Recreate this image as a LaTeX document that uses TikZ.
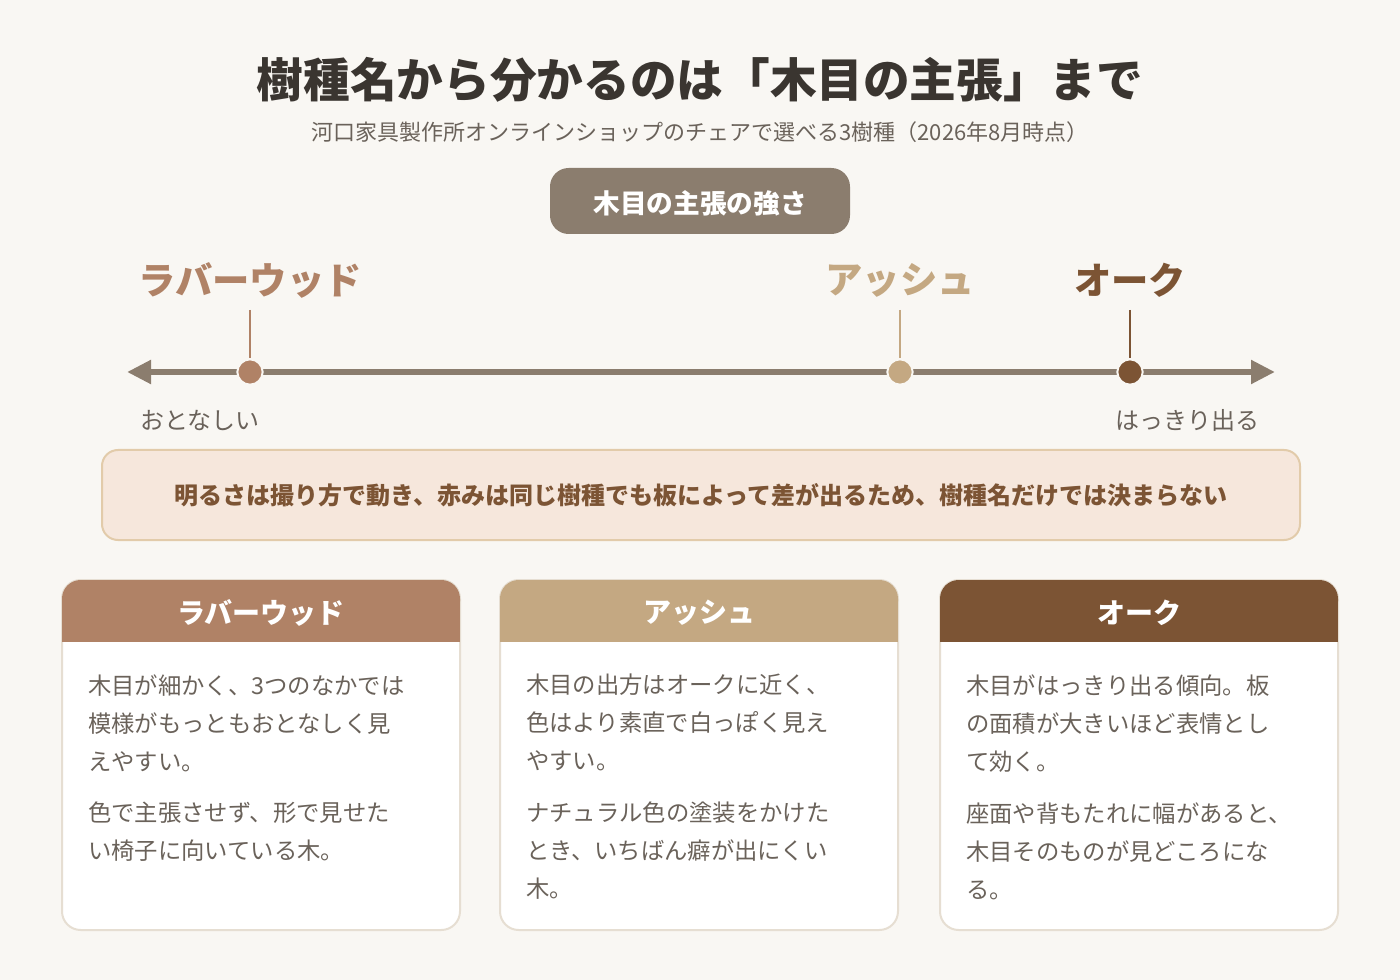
\documentclass[tikz,border=0pt]{standalone}
\usepackage{fontspec}
\setmainfont{Noto Sans CJK JP}
\usetikzlibrary{arrows.meta}
\definecolor{bg}{HTML}{F9F7F3}
\definecolor{ink}{HTML}{3A3530}
\definecolor{gry}{HTML}{6A625A}
\definecolor{axis}{HTML}{8B7D6E}
\definecolor{rub}{HTML}{B08266}
\definecolor{ash}{HTML}{C4A882}
\definecolor{oak}{HTML}{7C5434}
\definecolor{notef}{HTML}{F6E7DC}
\definecolor{noted}{HTML}{E2CBAA}
\definecolor{cardb}{HTML}{E6DED2}
\tikzset{
 x=0.75pt,y=-0.75pt,
 lbl/.style={font=\fontsize{28}{30}\selectfont\bfseries,anchor=center},
 tick/.style={line width=2.2pt},
 dot/.style={circle,minimum size=19pt,inner sep=0,draw=bg,line width=1.5pt},
 body/.style={anchor=north west,align=left,inner sep=0,text=gry,font=\fontsize{17.5}{28.5}\selectfont},
 head/.style={font=\fontsize{21}{24}\selectfont\bfseries,text=white},
}
\begin{document}
\begin{tikzpicture}
\fill[bg] (0,0) rectangle (1400,980);
\useasboundingbox (0,0) rectangle (1400,980);
\node[text=ink,font=\fontsize{35}{38}\selectfont\bfseries] (title) at (700,80) {樹種名から分かるのは「木目の主張」まで};
\node[text=gry,font=\fontsize{16.5}{18}\selectfont] (sub) at (700,132) {河口家具製作所オンラインショップのチェアで選べる3樹種（2026年8月時点）};
\fill[axis,rounded corners=14pt] (550,168) rectangle (850,234);
\node[text=white,font=\fontsize{20}{22}\selectfont\bfseries] (badge) at (700,203) {木目の主張の強さ};
\node[lbl,text=rub] (l1) at (250,280) {ラバーウッド};
\node[lbl,text=ash] (l2) at (900,280) {アッシュ};
\node[lbl,text=oak] (l3) at (1130,280) {オーク};
\coordinate (aL) at (127,372); \coordinate (aR) at (1275,372);
\draw[axis,line width=4.5pt,{Triangle[length=18pt,width=17pt]}-{Triangle[length=18pt,width=17pt]}] (aL) -- (aR);
\node[dot,fill=rub] (d1) at (250,372) {};
\node[dot,fill=ash] (d2) at (900,372) {};
\node[dot,fill=oak] (d3) at (1130,372) {};
\draw[tick,rub] (250,310) -- (d1);
\draw[tick,ash] (900,310) -- (d2);
\draw[tick,oak] (1130,310) -- (d3);
\node[text=gry,font=\fontsize{18}{20}\selectfont] (lo) at (200,420) {おとなしい};
\node[text=gry,font=\fontsize{18}{20}\selectfont] (hi) at (1187,420) {はっきり出る};
\draw[fill=notef,draw=noted,line width=1.5pt,rounded corners=12pt] (102,450) rectangle (1300,540);
\node[text=oak,font=\fontsize{18}{20}\selectfont\bfseries] (note) at (701,495) {明るさは撮り方で動き、赤みは同じ樹種でも板によって差が出るため、樹種名だけでは決まらない};
\foreach \x/\c/\t/\a/\b in {
 62/rub/ラバーウッド/{木目が細かく、3つのなかでは\\模様がもっともおとなしく見\\えやすい。}/{色で主張させず、形で見せた\\い椅子に向いている木。},
 500/ash/アッシュ/{木目の出方はオークに近く、\\色はより素直で白っぽく見え\\やすい。}/{ナチュラル色の塗装をかけた\\とき、いちばん癖が出にくい\\木。},
 940/oak/オーク/{木目がはっきり出る傾向。板\\の面積が大きいほど表情とし\\て効く。}/{座面や背もたれに幅があると、\\木目そのものが見どころにな\\る。}}{
 \draw[fill=white,draw=cardb,line width=1.5pt,rounded corners=14pt] (\x,580) rectangle ++(398,350);
 \fill[\c,rounded corners=14pt] (\x,580) rectangle ++(398,40);
 \fill[\c] (\x,600) rectangle ++(398,42);
 \node[head] at (\x+199,613) {\t};
 \node[body] at (\x+26,674) {\a};
 \node[body] at (\x+26,802) {\b};
}
\end{tikzpicture}
\end{document}
